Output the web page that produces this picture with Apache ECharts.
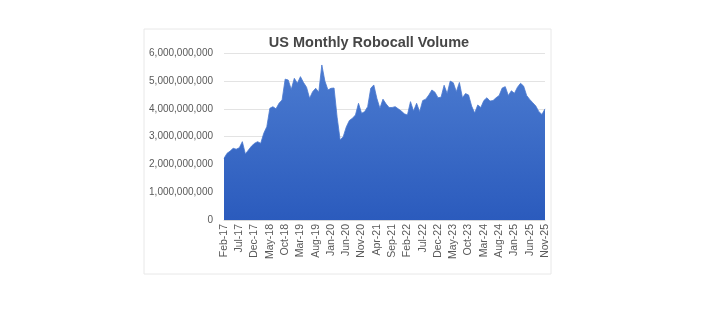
<!DOCTYPE html>
<html>
<head>
<meta charset="utf-8">
<script src="https://cdn.jsdelivr.net/npm/echarts@6/dist/echarts.min.js"></script>
<style>
html,body{margin:0;padding:0;background:#fff;}
#chart{width:702px;height:336px;}
</style>
</head>
<body>
<div id="chart"></div>
<script>
// Data: monthly robocall volume in billions, Feb-2017 .. Nov-2025
var startYear = 2017, startMonth = 1; // Feb (0-based)
var monthNames = ['Jan','Feb','Mar','Apr','May','Jun','Jul','Aug','Sep','Oct','Nov','Dec'];
var volumeBillions = [
  2.22, 2.40, 2.48, 2.58, 2.55, 2.60, 2.82, 2.38, 2.52, 2.66,
  2.76, 2.82, 2.76, 3.12, 3.36, 4.02, 4.08, 4.00, 4.20, 4.32,
  5.07, 5.04, 4.70, 5.10, 4.92, 5.16, 4.95, 4.78, 4.38, 4.62,
  4.74, 4.60, 5.58, 5.00, 4.68, 4.74, 4.75, 3.70, 2.88, 3.00,
  3.35, 3.58, 3.66, 3.78, 4.20, 3.84, 3.90, 4.08, 4.74, 4.86,
  4.38, 4.02, 4.35, 4.18, 4.05, 4.05, 4.08, 4.00, 3.92, 3.82,
  3.78, 4.26, 3.92, 4.20, 3.90, 4.30, 4.35, 4.50, 4.68, 4.60,
  4.40, 4.42, 4.85, 4.55, 5.00, 4.94, 4.62, 4.95, 4.40, 4.55,
  4.50, 4.10, 3.85, 4.14, 4.05, 4.30, 4.40, 4.28, 4.30, 4.40,
  4.48, 4.75, 4.80, 4.48, 4.65, 4.56, 4.78, 4.92, 4.82, 4.48,
  4.34, 4.22, 4.10, 3.90, 3.80, 4.00
];
var yTicks = [0, 1e9, 2e9, 3e9, 4e9, 5e9, 6e9];

var categories = [];
for (var i = 0; i < volumeBillions.length; i++) {
  var m = (startMonth + i) % 12;
  var y = startYear + Math.floor((startMonth + i) / 12);
  categories.push(monthNames[m] + '-' + String(y).slice(2));
}
var values = volumeBillions.map(function (v) { return v * 1e9; });

var chart = echarts.init(document.getElementById('chart'), null, {renderer: 'canvas'});
chart.setOption({
  animation: false,
  backgroundColor: '#ffffff',
  title: {
    text: 'US Monthly Robocall Volume',
    left: 364,
    textAlign: 'center',
    top: 30,
    textStyle: {fontFamily: 'Liberation Sans, Arial, sans-serif', fontSize: 14.5, fontWeight: 'bold', color: '#464646'}
  },
  graphic: [{
    type: 'rect',
    shape: {x: 144, y: 29, width: 407, height: 245},
    style: {fill: 'none', stroke: '#e8e8e8', lineWidth: 1},
    silent: true,
    z: -1
  }],
  grid: {left: 224, right: 157, top: 53.3, bottom: 116, containLabel: false},
  xAxis: {
    type: 'category',
    data: categories,
    boundaryGap: false,
    axisLine: {show: true, lineStyle: {color: '#d9d9d9'}},
    axisTick: {show: false},
    axisLabel: {
      interval: 4,
      rotate: 90,
      margin: 4,
      fontFamily: 'Liberation Sans, Arial, sans-serif',
      fontSize: 10.5,
      color: '#595959'
    },
    splitLine: {show: false}
  },
  yAxis: {
    type: 'value',
    min: yTicks[0],
    max: yTicks[yTicks.length - 1],
    interval: 1e9,
    axisLine: {show: false},
    axisTick: {show: false},
    axisLabel: {
      margin: 11,
      fontFamily: 'Liberation Sans, Arial, sans-serif',
      fontSize: 10,
      color: '#595959',
      formatter: function (v) { return v.toLocaleString('en-US'); }
    },
    splitLine: {lineStyle: {color: '#e3e3e3', width: 1}}
  },
  series: [{
    type: 'line',
    data: values,
    showSymbol: false,
    symbol: 'none',
    lineStyle: {width: 0.8, color: '#4a78cf'},
    areaStyle: {
      opacity: 1,
      color: new echarts.graphic.LinearGradient(0, 0, 0, 1, [
        {offset: 0, color: '#4b7bd0'},
        {offset: 1, color: '#2b5bbd'}
      ])
    }
  }]
});
</script>
</body>
</html>
